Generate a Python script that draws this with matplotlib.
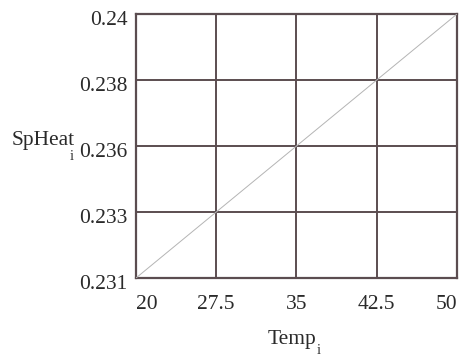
import numpy as np
import matplotlib
matplotlib.use('Agg')
import matplotlib.pyplot as plt
from matplotlib.transforms import ScaledTranslation

plt.rcParams['font.family'] = ['Liberation Serif', 'DejaVu Serif']

temp = [20, 27.5, 35, 42.5, 50]
sp_heat = [0.231, 0.23325, 0.2355, 0.23775, 0.240]

x_ticks = [20, 27.5, 35, 42.5, 50]
x_labels = ['20', '27.5', '35', '42.5', '50']
y_ticks = [0.231, 0.23325, 0.2355, 0.23775, 0.240]
y_labels = ['0.231', '0.233', '0.236', '0.238', '0.24']

GRID = '#5b4d50'
TXT = '#2a2a2a'
FS = 15.5

fig = plt.figure(figsize=(4.6, 3.58), dpi=100)
ax = fig.add_axes([136 / 460, 1 - 278 / 358, 321 / 460, 264 / 358])

ax.plot(temp, sp_heat, color='#b4b4b4', lw=0.7, zorder=3)

ax.set_xlim(20, 50)
ax.set_ylim(0.231, 0.240)
ax.set_xticks(x_ticks)
ax.set_yticks(y_ticks)
ax.set_xticklabels(x_labels, fontsize=FS, color=TXT)
ax.set_yticklabels(y_labels, fontsize=FS, color=TXT)
ax.tick_params(length=0, pad=6)
ax.tick_params(axis='x', pad=12)
ax.grid(True, color=GRID, lw=1.4)
for s in ax.spines.values():
    s.set_color(GRID)
    s.set_linewidth(1.6)

xl = ax.get_xticklabels()
xl[0].set_ha('left')
xl[-1].set_ha('right')
shift = ScaledTranslation(0, -4 / 100, fig.dpi_scale_trans)
for lab in ax.get_yticklabels():
    lab.set_transform(lab.get_transform() + shift)

# axis names with dropped subscripts, placed like the original
fig.text(12 / 460, 1 - 145 / 358, 'SpHeat', fontsize=FS, ha='left', va='baseline', color=TXT)
fig.text(72 / 460, 1 - 156 / 358, 'i', fontsize=10.5, ha='center', va='center', color=TXT)
fig.text(268 / 460, 1 - 344 / 358, 'Temp', fontsize=FS, ha='left', va='baseline', color=TXT)
fig.text(319 / 460, 1 - 351 / 358, 'i', fontsize=10.5, ha='center', va='center', color=TXT)

fig.savefig('out.png', dpi=100)
